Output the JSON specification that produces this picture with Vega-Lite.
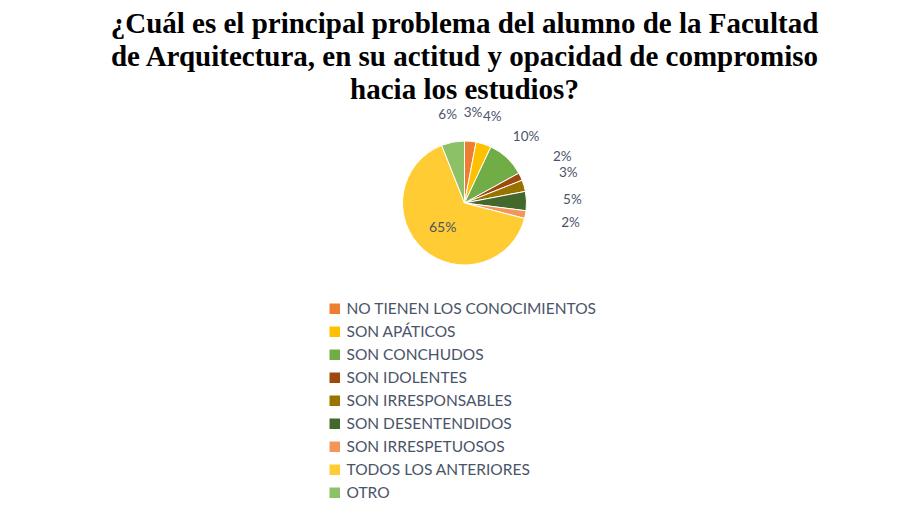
{
  "$schema": "https://vega.github.io/schema/vega-lite/v6.json",
  "width": 913,
  "height": 170,
  "padding": {"left": 8, "top": 10, "right": 0, "bottom": 0},
  "autosize": {"type": "pad"},
  "background": "white",
  "title": {
    "text": ["¿Cuál es el principal problema del alumno de la Facultad", "de Arquitectura, en su actitud y opacidad de compromiso", "hacia los estudios?"],
    "font": "Liberation Serif",
    "fontSize": 29,
    "fontWeight": "bold",
    "color": "#000000",
    "anchor": "middle",
    "lineHeight": 33,
    "offset": -17
  },
  "config": {"view": {"stroke": null}},
  "data": {
    "values": [
      {"idx": 1, "categoria": "NO TIENEN LOS CONOCIMIENTOS", "pct": 3, "label": "3%"},
      {"idx": 2, "categoria": "SON APÁTICOS", "pct": 4, "label": "4%"},
      {"idx": 3, "categoria": "SON CONCHUDOS", "pct": 10, "label": "10%"},
      {"idx": 4, "categoria": "SON IDOLENTES", "pct": 2, "label": "2%"},
      {"idx": 5, "categoria": "SON IRRESPONSABLES", "pct": 3, "label": "3%"},
      {"idx": 6, "categoria": "SON DESENTENDIDOS", "pct": 5, "label": "5%"},
      {"idx": 7, "categoria": "SON IRRESPETUOSOS", "pct": 2, "label": "2%"},
      {"idx": 8, "categoria": "TODOS LOS ANTERIORES", "pct": 65, "label": "65%"},
      {"idx": 9, "categoria": "OTRO", "pct": 6, "label": "6%"}
    ]
  },
  "encoding": {
    "theta": {"field": "pct", "type": "quantitative", "stack": true},
    "order": {"field": "idx", "type": "quantitative"}
  },
  "layer": [
    {
      "mark": {"type": "arc", "outerRadius": 62, "stroke": "white", "strokeWidth": 1},
      "encoding": {
        "color": {
          "field": "categoria",
          "type": "nominal",
          "sort": null,
          "scale": {
            "domain": ["NO TIENEN LOS CONOCIMIENTOS", "SON APÁTICOS", "SON CONCHUDOS", "SON IDOLENTES", "SON IRRESPONSABLES", "SON DESENTENDIDOS", "SON IRRESPETUOSOS", "TODOS LOS ANTERIORES", "OTRO"],
            "range": ["#ED7D31", "#FFC000", "#70AD47", "#9E480E", "#997300", "#43682B", "#F1975A", "#FFCD33", "#8CC168"]
          },
          "legend": {
            "orient": "none",
            "legendX": 319,
            "legendY": 183,
            "direction": "vertical",
            "title": null,
            "symbolType": "square",
            "symbolSize": 110,
            "symbolStrokeWidth": 0,
            "labelFont": "Lato",
            "labelFontSize": 15.5,
            "labelColor": "#4A5468",
            "labelOffset": 4,
            "rowPadding": 6,
            "labelLimit": 400
          }
        }
      }
    },
    {
      "mark": {"type": "text", "radius": 90, "font": "Lato", "fontSize": 13.5, "color": "#4A5468"},
      "encoding": {
        "text": {"field": "label", "condition": {"test": "datum.idx >= 4 && datum.idx != 9", "value": ""}}
      }
    },
    {
      "mark": {"type": "text", "radius": 108, "font": "Lato", "fontSize": 13.5, "color": "#4A5468"},
      "encoding": {
        "text": {"field": "label", "condition": {"test": "datum.idx < 4 || datum.idx > 7", "value": ""}}
      }
    },
    {
      "mark": {"type": "text", "radius": 33, "font": "Lato", "fontSize": 14, "color": "#4A5468"},
      "encoding": {
        "text": {"field": "label", "condition": {"test": "datum.idx != 8", "value": ""}}
      }
    }
  ]
}
